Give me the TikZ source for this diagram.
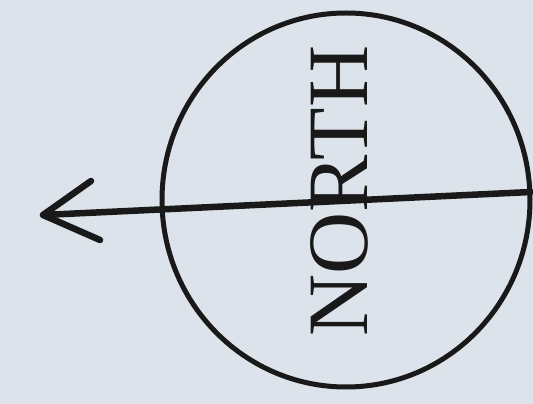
\documentclass[tikz,border=0pt]{standalone}
\usepackage{fontspec}
\setmainfont{Liberation Serif}
\begin{document}
\begin{tikzpicture}[x=1pt,y=1pt,
  ink/.style={draw=black!90, line cap=round, line join=round},
  label/.style={font=\fontsize{86}{86}\selectfont, text=black!90, inner sep=0pt, rotate=90, anchor=base}]
\fill[fill={rgb,255:red,221;green,227;blue,234}] (0,0) rectangle (533,404);
\useasboundingbox (0,0) rectangle (533,404);
\draw[ink, line width=5pt] (346,204) circle[x radius=184, y radius=187];
\node[label] (txt) at (367,213) {NORTH};
\coordinate (tail) at (531,212);
\coordinate (tip) at (43,189);
\coordinate (armA) at (91,223);
\coordinate (armB) at (100,164);
\draw[ink, line width=6.5pt] (tail) -- (tip);
\draw[ink, line width=6.5pt] (armA) -- (tip) -- (armB);
\end{tikzpicture}
\end{document}
